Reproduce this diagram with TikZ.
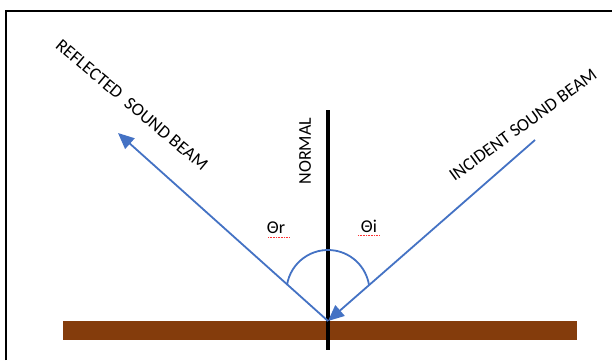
\documentclass[tikz,border=0pt]{standalone}
\usepackage{fontspec}
\setmainfont{Carlito}
\usetikzlibrary{arrows.meta}
\definecolor{beam}{HTML}{4472C4}
\definecolor{ground}{HTML}{843C0C}
\tikzset{
  beamline/.style={draw=beam, line width=1.8pt},
  lbl/.style={font=\fontsize{18}{20}\selectfont, inner sep=0pt},
  squig/.style={draw=red!80, densely dotted, line width=0.6pt}
}
\begin{document}
\begin{tikzpicture}[x=1pt,y=-1pt]
\useasboundingbox (0,0) rectangle (612,360);
\fill[white] (0,0) rectangle (612,360);
% frame
\draw[line width=1.6pt] (6,360) -- (6,11) -- (612,11);
% ground
\node[fill=ground, minimum width=514pt, minimum height=19pt, inner sep=0pt, anchor=north west] (grnd) at (63,321) {};
% coordinates
\coordinate (P) at (328,321);
\coordinate (Ntop) at (328,110);
\coordinate (Nbot) at (328,350);
\coordinate (Rend) at (118,133);
\coordinate (Istart) at (535,140);
% normal
\draw[line width=4pt] (Ntop) -- (Nbot);
% angle arc
\draw[beamline] (287,285) arc[start angle=-171, end angle=-9, radius=41.5];
% beams
\draw[beamline, -{Triangle[length=16pt,width=14pt]}] (P) -- (Rend);
\draw[beamline, -{Triangle[length=16pt,width=14pt]}] (Istart) -- (P);
% labels
\node[lbl, rotate=-40] (refl) at (132,105) {REFLECTED\ \ SOUND BEAM};
\node[lbl, rotate=36] (inc) at (523,125) {INCIDENT SOUND BEAM};
\node[lbl, rotate=90] (norm) at (305,151) {NORMAL};
\node[lbl] (thr) at (276,228) {Θr};
\node[lbl] (thi) at (369,226) {Θi};
\draw[squig] (268,237.5) -- (289,237.5);
\draw[squig] (358,235.5) -- (380,235.5);
\end{tikzpicture}
\end{document}
